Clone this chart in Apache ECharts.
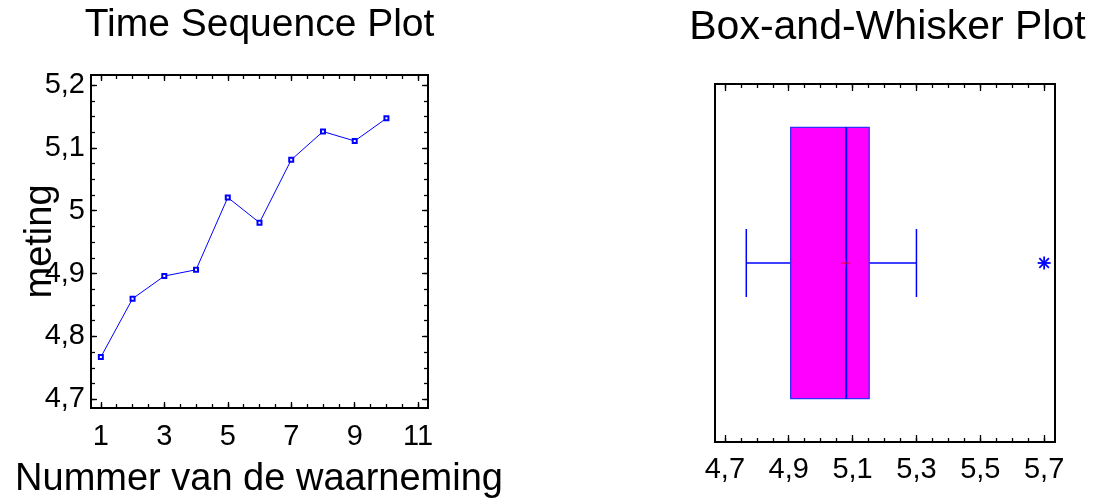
<!DOCTYPE html>
<html>
<head>
<meta charset="utf-8">
<script src="https://cdn.jsdelivr.net/npm/echarts@6/dist/echarts.min.js"></script>
<style>
  html, body { margin: 0; padding: 0; background: #fff; }
  #chart { width: 1093px; height: 501px; }
</style>
</head>
<body>
<div id="chart"></div>
<script>
// ---- Data ----
const obsNumber = [1, 2, 3, 4, 5, 6, 7, 8, 9, 10];
const meting = [4.767, 4.860, 4.896, 4.906, 5.021, 4.981, 5.081, 5.126, 5.111, 5.147];
const tsXTickLabels = [1, 3, 5, 7, 9, 11];
const tsYTickLabels = [4.7, 4.8, 4.9, 5.0, 5.1, 5.2];
// box: [lower whisker, Q1, median, Q3, upper whisker]
const boxSummary = [4.767, 4.906, 5.080, 5.152, 5.300];
const boxMean = [5.078];
const boxOutliers = [5.70];
const boxXTickLabels = [4.7, 4.9, 5.1, 5.3, 5.5, 5.7];

// ---- helpers ----
const FONT = "'Liberation Sans', Arial, Helvetica, sans-serif";
const fmt = v => String(Math.round(v * 1000) / 1000).replace('.', ',');
function steps(a, b, s) {
  const out = [];
  const n = Math.round((b - a) / s);
  for (let i = 0; i <= n; i++) out.push(Math.round((a + i * s) * 10000) / 10000);
  return out;
}
const tsXMinor = steps(1, 11, 0.5);
const tsYMinor = steps(4.7, 5.2, 0.025);
const boxXMinor = steps(4.7, 5.7, 0.05);

function valAxis(opts) {
  return {
    type: 'value',
    gridIndex: opts.grid,
    position: opts.position,
    min: opts.min, max: opts.max,
    axisLine: { show: false },
    splitLine: { show: false },
    axisTick: {
      show: true, inside: true, length: opts.tickLen,
      customValues: opts.ticks,
      lineStyle: { color: '#000', width: 1.3 }
    },
    axisLabel: opts.labels ? {
      show: true,
      customValues: opts.labels,
      formatter: fmt,
      color: '#000',
      fontFamily: FONT,
      fontSize: 29,
      margin: opts.margin
    } : { show: false }
  };
}

const xAxes = [
  valAxis({ grid: 0, position: 'bottom', min: 0.69, max: 11.31, tickLen: 6, ticks: tsXTickLabels, labels: tsXTickLabels, margin: 14 }),
  valAxis({ grid: 0, position: 'bottom', min: 0.69, max: 11.31, tickLen: 4, ticks: tsXMinor }),
  valAxis({ grid: 0, position: 'top', min: 0.69, max: 11.31, tickLen: 6, ticks: tsXTickLabels }),
  valAxis({ grid: 0, position: 'top', min: 0.69, max: 11.31, tickLen: 4, ticks: tsXMinor }),
  valAxis({ grid: 1, position: 'bottom', min: 4.669, max: 5.734, tickLen: 7, ticks: boxXTickLabels, labels: boxXTickLabels, margin: 13 }),
  valAxis({ grid: 1, position: 'bottom', min: 4.669, max: 5.734, tickLen: 4, ticks: boxXMinor }),
  valAxis({ grid: 1, position: 'top', min: 4.669, max: 5.734, tickLen: 7, ticks: boxXTickLabels }),
  valAxis({ grid: 1, position: 'top', min: 4.669, max: 5.734, tickLen: 4, ticks: boxXMinor })
];
const yAxes = [
  valAxis({ grid: 0, position: 'left', min: 4.686, max: 5.216, tickLen: 6, ticks: tsYTickLabels, labels: tsYTickLabels, margin: 6 }),
  valAxis({ grid: 0, position: 'left', min: 4.686, max: 5.216, tickLen: 4, ticks: tsYMinor }),
  valAxis({ grid: 0, position: 'right', min: 4.686, max: 5.216, tickLen: 6, ticks: tsYTickLabels }),
  valAxis({ grid: 0, position: 'right', min: 4.686, max: 5.216, tickLen: 4, ticks: tsYMinor }),
  {
    type: 'category', gridIndex: 1, data: ['meting'],
    axisLine: { show: false }, axisTick: { show: false }, axisLabel: { show: false }, splitLine: { show: false }
  }
];

const chart = echarts.init(document.getElementById('chart'), null, { renderer: 'canvas' });

const option = {
  animation: false,
  backgroundColor: '#fff',
  grid: [
    { left: 91, top: 75, width: 337, height: 333, show: true, borderColor: '#000', borderWidth: 2, backgroundColor: 'transparent' },
    { left: 715, top: 84, width: 340, height: 358, show: true, borderColor: '#000', borderWidth: 2, backgroundColor: 'transparent' }
  ],
  xAxis: xAxes,
  yAxis: yAxes,
  graphic: [
    { type: 'text', x: 259.5, y: 25.5, style: { text: 'Time Sequence Plot', fontSize: 39, fontFamily: FONT, fill: '#000', textAlign: 'center', textVerticalAlign: 'middle', align: 'center', verticalAlign: 'middle' } },
    { type: 'text', x: 887.5, y: 28, style: { text: 'Box-and-Whisker Plot', fontSize: 41, fontFamily: FONT, fill: '#000', textAlign: 'center', textVerticalAlign: 'middle', align: 'center', verticalAlign: 'middle' } },
    { type: 'text', x: 259, y: 480, style: { text: 'Nummer van de waarneming', fontSize: 38, fontFamily: FONT, fill: '#000', textAlign: 'center', textVerticalAlign: 'middle', align: 'center', verticalAlign: 'middle' } },
    { type: 'text', x: 41, y: 241.5, rotation: Math.PI / 2, z: 100, style: { text: 'meting', fontSize: 38, fontFamily: FONT, fill: '#000', textAlign: 'center', textVerticalAlign: 'middle', align: 'center', verticalAlign: 'middle' } }
  ],
  series: [
    {
      type: 'line',
      xAxisIndex: 0, yAxisIndex: 0,
      data: obsNumber.map((n, i) => [n, meting[i]]),
      symbol: 'emptyRect', symbolSize: 4,
      lineStyle: { color: '#0000FF', width: 1 },
      itemStyle: { color: '#0000FF', borderColor: '#0000FF', borderWidth: 1 },
      z: 3
    },
    {
      type: 'custom',
      xAxisIndex: 4, yAxisIndex: 4,
      data: [[...boxSummary, 0]],
      encode: { x: [0, 1, 2, 3, 4], y: 5 },
      renderItem: function (params, api) {
        const band = api.size([0, 1])[1];
        const cy = api.coord([api.value(2), 0])[1];
        const px = i => api.coord([api.value(i), 0])[0];
        const boxH = band * 0.758;
        const capH = band * 0.19;
        const top = cy - boxH / 2;
        const blue = '#0000FF';
        return {
          type: 'group',
          children: [
            { type: 'line', shape: { x1: px(0), y1: cy, x2: px(1), y2: cy }, style: { stroke: blue, lineWidth: 1.5 } },
            { type: 'line', shape: { x1: px(3), y1: cy, x2: px(4), y2: cy }, style: { stroke: blue, lineWidth: 1.5 } },
            { type: 'line', shape: { x1: px(0), y1: cy - capH / 2, x2: px(0), y2: cy + capH / 2 }, style: { stroke: blue, lineWidth: 1.5 } },
            { type: 'line', shape: { x1: px(4), y1: cy - capH / 2, x2: px(4), y2: cy + capH / 2 }, style: { stroke: blue, lineWidth: 1.5 } },
            { type: 'rect', shape: { x: px(1), y: top, width: px(3) - px(1), height: boxH }, style: { fill: '#FF00FF', stroke: '#3030FF', lineWidth: 1.3 } },
            { type: 'line', shape: { x1: px(2), y1: top, x2: px(2), y2: top + boxH }, style: { stroke: blue, lineWidth: 2 } }
          ]
        };
      },
      z: 3
    },
    {
      type: 'custom',
      xAxisIndex: 4, yAxisIndex: 4,
      data: boxMean.map(v => [v, 0]),
      encode: { x: 0, y: 1 },
      renderItem: function (params, api) {
        const p = api.coord([api.value(0), 0]);
        const h = 4.5;
        return {
          type: 'group',
          children: [
            { type: 'line', shape: { x1: p[0] - h, y1: p[1], x2: p[0] + h, y2: p[1] }, style: { stroke: '#FF0000', lineWidth: 1 } },
            { type: 'line', shape: { x1: p[0], y1: p[1] - h, x2: p[0], y2: p[1] + h }, style: { stroke: '#FF0000', lineWidth: 1 } }
          ]
        };
      },
      z: 4
    },
    {
      type: 'custom',
      xAxisIndex: 4, yAxisIndex: 4,
      data: boxOutliers.map(v => [v, 0]),
      encode: { x: 0, y: 1 },
      renderItem: function (params, api) {
        const p = api.coord([api.value(0), 0]);
        const h = 6.5, d = 4.8;
        const s = { stroke: '#0000FF', lineWidth: 1.8 };
        return {
          type: 'group',
          children: [
            { type: 'line', shape: { x1: p[0] - h, y1: p[1], x2: p[0] + h, y2: p[1] }, style: s },
            { type: 'line', shape: { x1: p[0], y1: p[1] - h, x2: p[0], y2: p[1] + h }, style: s },
            { type: 'line', shape: { x1: p[0] - d, y1: p[1] - d, x2: p[0] + d, y2: p[1] + d }, style: s },
            { type: 'line', shape: { x1: p[0] - d, y1: p[1] + d, x2: p[0] + d, y2: p[1] - d }, style: s }
          ]
        };
      },
      z: 4
    }
  ]
};
chart.setOption(option);
</script>
</body>
</html>
